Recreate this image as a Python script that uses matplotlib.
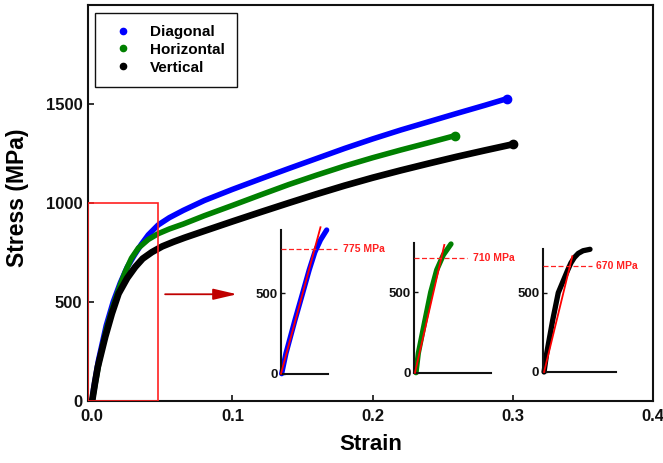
import matplotlib
matplotlib.use("Agg")
import matplotlib.pyplot as plt
from matplotlib.lines import Line2D
from matplotlib.patches import Rectangle

plt.rcParams['font.family'] = ['Liberation Sans', 'DejaVu Sans']
plt.rcParams['font.weight'] = 'bold'

# ---------------- data ----------------
series_names = ["Diagonal", "Horizontal", "Vertical"]
series_colors = ["#0000ff", "#008000", "#000000"]

diag_strain = [0.0, 0.001, 0.0045, 0.010, 0.015, 0.020, 0.025, 0.030, 0.035, 0.040,
               0.047, 0.055, 0.065, 0.080, 0.100, 0.120, 0.140, 0.160, 0.180, 0.200,
               0.220, 0.240, 0.260, 0.280, 0.296]
diag_stress = [0, 60, 205, 380, 500, 595, 675, 735, 790, 838,
               888, 925, 962, 1012, 1068, 1121, 1173, 1224, 1275, 1323,
               1368, 1410, 1452, 1493, 1527]

horiz_strain = [0.0, 0.002, 0.005, 0.010, 0.015, 0.020, 0.0236, 0.028, 0.033, 0.040,
                0.047, 0.055, 0.065, 0.080, 0.100, 0.120, 0.140, 0.160, 0.180, 0.200,
                0.220, 0.240, 0.259]
horiz_stress = [0, 80, 200, 360, 480, 585, 652, 720, 772, 815,
                844, 868, 893, 935, 987, 1040, 1092, 1140, 1186, 1228,
                1267, 1304, 1340]

vert_strain = [0.0, 0.002, 0.004, 0.0093, 0.014, 0.0188, 0.025, 0.0307, 0.036, 0.0426,
               0.050, 0.058, 0.066, 0.080, 0.100, 0.120, 0.140, 0.160, 0.180, 0.200,
               0.220, 0.240, 0.260, 0.280, 0.300]
vert_stress = [0, 90, 171, 323, 440, 541, 620, 676, 718, 751,
               780, 803, 824, 858, 906, 953, 999, 1044, 1087, 1127,
               1164, 1199, 1233, 1265, 1296]

x_ticks = [0.0, 0.1, 0.2, 0.3, 0.4]
x_tick_labels = ["0.0", "0.1", "0.2", "0.3", "0.4"]
y_ticks = [0, 500, 1000, 1500]
y_tick_labels = ["0", "500", "1000", "1500"]

# insets (zoomed elastic region with linear fit and yield stress)
inset1_strain = [0.0007, 0.0053, 0.0149, 0.023, 0.030, 0.036, 0.042, 0.0486]
inset1_stress = [0, 127, 334, 500, 645, 755, 831, 893]
inset2_strain = [0.0021, 0.0045, 0.0115, 0.0174, 0.0237, 0.0306, 0.0386]
inset2_stress = [0, 121, 328, 500, 639, 732, 800]
inset3_strain = [0.0014, 0.0041, 0.0103, 0.016, 0.0257, 0.029, 0.0325, 0.0365, 0.0415, 0.0486]
inset3_stress = [0, 118, 328, 500, 643, 688, 722, 748, 765, 774]

fit1_strain = [0.0, 0.042]
fit1_stress = [0, 910]
fit2_strain = [0.001, 0.0316]
fit2_stress = [0, 794]
fit3_strain = [0.0014, 0.0304]
fit3_stress = [0, 730]

yield_values = [775, 710, 670]
yield_labels = ["775 MPa", "710 MPa", "670 MPa"]

# ---------------- figure ----------------
W, H = 663, 463
fig = plt.figure(figsize=(W / 100, H / 100), dpi=100)

def px_axes(l, t, r, b):
    return [l / W, (H - b) / H, (r - l) / W, (b - t) / H]

ax = fig.add_axes(px_axes(88, 5, 653, 400.7))
ax.set_xlim(-0.003, 0.4)
ax.set_ylim(0, 2000)

curves = [(diag_strain, diag_stress), (horiz_strain, horiz_stress), (vert_strain, vert_stress)]
lws = [4.0, 4.0, 4.8]
for (xs, ys), c, lw in zip(curves, series_colors, lws):
    ax.plot(xs, ys, color=c, lw=lw, solid_capstyle='round', solid_joinstyle='round',
            marker='o', markevery=[len(xs) - 1], markersize=6, zorder=3)

ax.set_xticks(x_ticks)
ax.set_xticklabels(x_tick_labels)
ax.set_yticks(y_ticks)
ax.set_yticklabels(y_tick_labels)
ax.tick_params(direction='in', length=4, width=1.2, labelsize=12, colors='#111111')
ax.tick_params(axis='x', pad=6)
ax.tick_params(axis='y', pad=4)
for lab in ax.get_xticklabels() + ax.get_yticklabels():
    lab.set_fontweight('bold')
for s in ax.spines.values():
    s.set_linewidth(1.5)
    s.set_color('#111111')

# red rectangle
rect = Rectangle((-0.003, 0), 0.05, 1000, fill=False, edgecolor='#ff2020', lw=1.2, zorder=5)
ax.add_patch(rect)

# arrow
ax.annotate('', xy=(0.1033, 538), xytext=(0.052, 538),
            arrowprops=dict(arrowstyle='-|>,head_length=1.2,head_width=0.28',
                            mutation_scale=12, lw=1.3, color='#c00000',
                            shrinkA=0, shrinkB=0))

# legend
handles = [Line2D([], [], ls='none', marker='o', markersize=4.5, color=c) for c in series_colors]
leg = ax.legend(handles, series_names, loc='upper left', bbox_to_anchor=(0.0124, 0.9805),
                borderaxespad=0, fancybox=False, framealpha=1, edgecolor='#111111',
                prop={'size': 11, 'weight': 'bold'}, borderpad=0.8, labelspacing=0.25,
                handlelength=2.0, handletextpad=0.8)
leg.get_frame().set_linewidth(1.0)

fig.text(18 / W, (H - 198) / H, "Stress (MPa)", rotation=90, ha='center', va='center',
         fontsize=16.5, fontweight='bold')
fig.text(371 / W, (H - 444) / H, "Strain", ha='center', va='center',
         fontsize=16, fontweight='bold')

# insets
inset_specs = [
    (px_axes(281, 230, 328, 373.7), (0, 0.05), (0, 893), inset1_strain, inset1_stress,
     fit1_strain, fit1_stress, series_colors[0], 0.0593, 0.0656),
    (px_axes(414, 242.7, 490.7, 372.7), (0, 0.08), (0, 808), inset2_strain, inset2_stress,
     fit2_strain, fit2_stress, series_colors[1], 0.0556, 0.0619),
    (px_axes(542.7, 249.3, 615.7, 372), (0, 0.075), (0, 774), inset3_strain, inset3_stress,
     fit3_strain, fit3_stress, series_colors[2], 0.0504, 0.0548),
]
for i, (pos, xl, yl, xs, ys, fx, fy, c, dash_end, text_x) in enumerate(inset_specs):
    ia = fig.add_axes(pos)
    ia.patch.set_alpha(0)
    ia.set_xlim(*xl)
    ia.set_ylim(*yl)
    ia.plot(xs, ys, color=c, lw=3.8, solid_capstyle='round', solid_joinstyle='round',
            clip_on=False, zorder=2)
    ia.plot(fx, fy, color='#ff0000', lw=1.3, clip_on=False, zorder=3)
    ia.plot([0, dash_end], [yield_values[i]] * 2, color='#ff2020', lw=0.9,
            ls=(0, (4, 2)), clip_on=False, zorder=3)
    ia.text(text_x, yield_values[i], yield_labels[i], color='#ff2020', fontsize=7.5,
            fontweight='bold', ha='left', va='center', clip_on=False)
    ia.spines['top'].set_visible(False)
    ia.spines['right'].set_visible(False)
    for s in ('left', 'bottom'):
        ia.spines[s].set_linewidth(1.5)
        ia.spines[s].set_color('#111111')
    ia.set_xticks([])
    ia.set_yticks([0, 500])
    ia.set_yticklabels(["0", "500"])
    ia.tick_params(axis='y', direction='in', length=3, width=1, labelsize=9.5, pad=2.5,
                   colors='#111111')
    for lab in ia.get_yticklabels():
        lab.set_fontweight('bold')

fig.savefig("out.png", dpi=100)
